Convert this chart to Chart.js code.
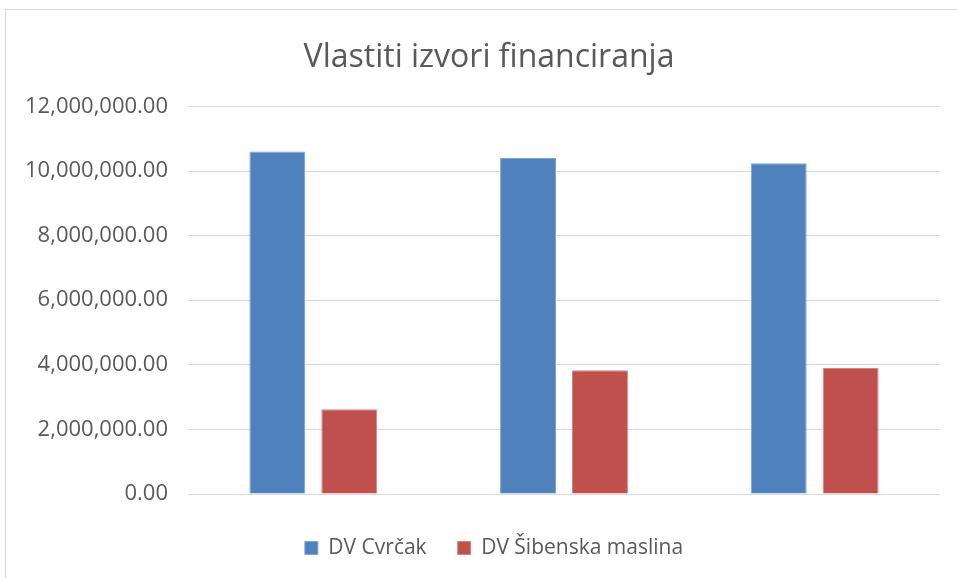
<!DOCTYPE html>
<html>
<head>
<meta charset="utf-8">
<script src="https://cdn.jsdelivr.net/npm/chart.js@4.4.1/dist/chart.umd.min.js"></script>
<style>
  html, body { margin: 0; padding: 0; background: #ffffff; }
  #wrap { position: relative; width: 957px; height: 578px; overflow: hidden; }
  #frame { position: absolute; left: 5px; top: 9px; width: 1000px; height: 1000px; border: 1px solid #d9d9d9; box-sizing: border-box; }
  canvas { position: absolute; left: 0; top: 0; }
</style>
</head>
<body>
<div id="wrap">
  <div id="frame"></div>
  <canvas id="c" width="957" height="578"></canvas>
</div>
<script>
const titleText = "Vlastiti izvori financiranja";
const categories = ["", "", ""];
const seriesNames = ["DV Cvrčak", "DV Šibenska maslina"];
const cvrcakValues = [10600000, 10400000, 10240000];
const maslinaValues = [2620000, 3830000, 3900000];
const yTicks = [0, 2000000, 4000000, 6000000, 8000000, 10000000, 12000000];

const textColor = "#595959";
const fontFamily = "'Open Sans', 'Noto Sans', sans-serif";

const shiftBlocks = {
  id: "shiftBlocks",
  afterLayout(chart) {
    if (chart.titleBlock) { chart.titleBlock.left += 8; chart.titleBlock.right += 8; }
    if (chart.legend) {
      const lg = chart.legend;
      lg.left += 13; lg.right += 13;
      const h = lg.bottom - lg.top;
      lg.top = 506.5; lg.bottom = lg.top + h;
    }
  }
};

new Chart(document.getElementById("c"), {
  type: "bar",
  data: {
    labels: categories,
    datasets: [
      { label: seriesNames[0], data: cvrcakValues, backgroundColor: "#4F81BD", borderColor: "#7fa3cf", borderWidth: 1, categoryPercentage: 0.574, barPercentage: 0.778 },
      { label: seriesNames[1], data: maslinaValues, backgroundColor: "#C0504D", borderColor: "#d28583", borderWidth: 1, categoryPercentage: 0.574, barPercentage: 0.778 }
    ]
  },
  plugins: [shiftBlocks],
  options: {
    responsive: false,
    animation: false,
    devicePixelRatio: 1,
    layout: { padding: { left: 22, right: 17, top: 10, bottom: 0 } },
    plugins: {
      title: {
        display: true,
        text: titleText,
        color: textColor,
        font: { family: fontFamily, size: 32, weight: "normal" },
        padding: { top: 29, bottom: 29 }
      },
      legend: {
        position: "bottom",
        labels: {
          color: textColor,
          font: { family: fontFamily, size: 21 },
          boxWidth: 13,
          boxHeight: 13,
          padding: 31
        }
      },
      tooltip: { enabled: false }
    },
    scales: {
      x: {
        grid: { display: false },
        border: { display: false },
        ticks: { display: false },
        afterFit: (scale) => { scale.height = 22; }
      },
      y: {
        min: 0,
        max: 12000000,
        afterBuildTicks: (scale) => { scale.ticks = yTicks.map(v => ({ value: v })); },
        afterFit: (scale) => { scale.width = 166; },
        grid: { color: "#d9d9d9", lineWidth: 1, drawTicks: false },
        border: { display: false },
        ticks: {
          color: textColor,
          font: { family: fontFamily, size: 22 },
          padding: 20,
          callback: (v) => Number(v).toLocaleString("en-US", { minimumFractionDigits: 2, maximumFractionDigits: 2 })
        }
      }
    }
  }
});
</script>
</body>
</html>
